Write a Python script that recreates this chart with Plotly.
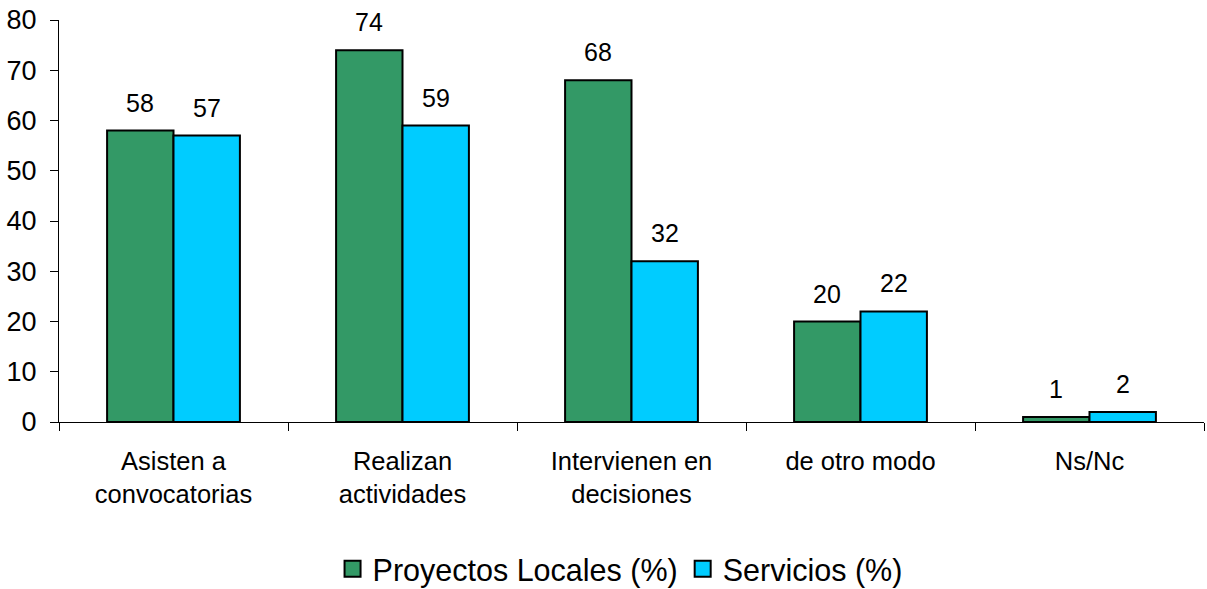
import plotly.graph_objects as go

categories = ["Asisten a<br>convocatorias", "Realizan<br>actividades", "Intervienen en<br>decisiones",
              "de otro modo", "Ns/Nc"]
proyectos_locales = [58, 74, 68, 20, 1]
servicios = [57, 59, 32, 22, 2]

series_names = ["Proyectos Locales (%)", "Servicios (%)"]
series_colors = ["#339966", "#00CCFF"]

font_family = "Liberation Sans, Arial, sans-serif"
bargap = 0.42

fig = go.Figure()
for name, vals, color in zip(series_names, [proyectos_locales, servicios], series_colors):
    fig.add_trace(go.Bar(
        x=categories, y=vals, name=name, showlegend=False,
        marker=dict(color=color, line=dict(color="black", width=2)),
    ))
    # legend-only entry with a bigger square swatch
    fig.add_trace(go.Scatter(
        x=[None], y=[None], mode="markers", name=name,
        marker=dict(symbol="square", size=16, color=color, line=dict(color="black", width=2)),
    ))

# value labels above each bar
half = (1 - bargap) / 4
for k, vals in enumerate([proyectos_locales, servicios]):
    off = -half if k == 0 else half
    for i, v in enumerate(vals):
        fig.add_annotation(
            x=i + off, y=v, text=str(v), showarrow=False,
            yanchor="bottom", yshift=12, font=dict(size=25, color="black"),
        )

fig.update_layout(
    width=1207, height=589,
    margin=dict(l=59, r=3, t=20, b=167),
    barmode="group", bargap=bargap, bargroupgap=0,
    plot_bgcolor="white", paper_bgcolor="white",
    font=dict(family=font_family, size=24, color="black"),
    legend=dict(orientation="h", x=0.49, xanchor="center",
                yref="container", y=20 / 589, yanchor="middle",
                font=dict(size=30.5), itemwidth=30, tracegroupgap=0, itemsizing="trace"),
)
fig.update_xaxes(
    showline=True, linecolor="black", linewidth=1, automargin=False,
    ticks="outside", tickson="boundaries", ticklen=8, tickcolor="black",
    showgrid=False, tickfont=dict(size=25.5), ticklabelstandoff=16,
)
fig.update_yaxes(
    range=[0, 80], dtick=10, showline=True, linecolor="black", linewidth=1, automargin=False,
    ticks="outside", ticklen=8, tickcolor="black", showgrid=False, zeroline=False,
    tickfont=dict(size=27), ticklabelstandoff=8,
)

# drop the default 8px page margin so the figure sits at the window's corner
fig.write_html("out.html", config={"displayModeBar": False},
               post_script="document.body.style.margin = '0';")
